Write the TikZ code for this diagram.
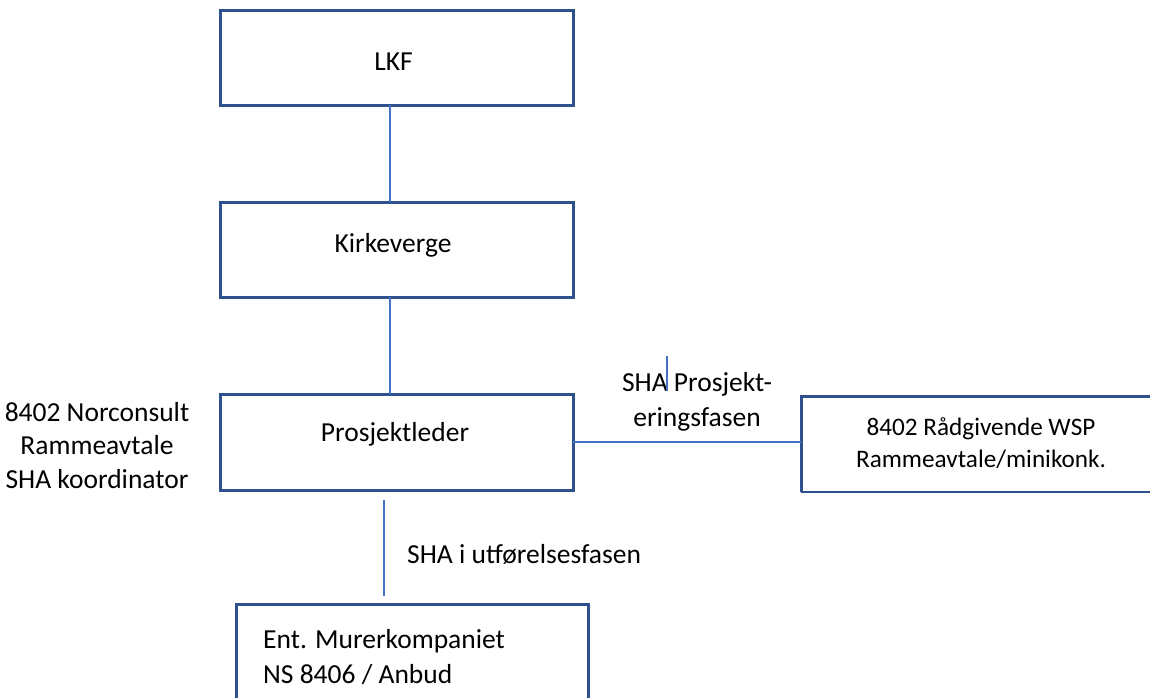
\documentclass[tikz,border=0pt]{standalone}
\usepackage{fontspec}
\setmainfont{Carlito}
\usetikzlibrary{calc}
\definecolor{boxblue}{HTML}{2F528F}
\definecolor{lineblue}{HTML}{4472C4}
\begin{document}
\begin{tikzpicture}[x=1pt,y=-1pt,
  orgbox/.style={draw=boxblue, line width=3pt, minimum width=353pt, minimum height=95pt, inner sep=0pt, outer sep=0pt},
  lbl/.style={inner sep=0pt, font=\fontsize{27.5}{33.5}\selectfont, text=black},
  link/.style={draw=lineblue, line width=1.3pt}]
\useasboundingbox (0,0) rectangle (1150,697);
% boxes
\node[orgbox] (lkf) at (396.5,57.5) {};
\node[orgbox] (kirke) at (396.5,249.5) {};
\node[orgbox, minimum height=96pt] (pl) at (396.5,442) {};
\node[orgbox, draw=none, minimum width=352pt, minimum height=96pt] (wsp) at (977,444) {};
\draw[boxblue, line width=3pt] (wsp.south west) -- (wsp.north west) -- (wsp.north east);
\draw[boxblue, line width=2pt] (wsp.south west) -- (wsp.south east);
\node[orgbox, minimum width=352pt, minimum height=116pt] (ent) at (412,662) {};
% texts (multi-line nodes: base = baseline of last line)
\node[lbl, anchor=base] (tlkf) at (393.5,70.7) {LKF};
\node[lbl, anchor=base] (tkirke) at (393,252) {Kirkeverge};
\node[lbl, anchor=base] (tpl) at (395,441) {Prosjektleder};
\node[lbl, anchor=base, align=center] (tnorc) at (97,488) {8402 Norconsult\\Rammeavtale\\SHA koordinator};
\node[lbl, anchor=base, align=center, font=\fontsize{27.5}{35}\selectfont] (tsha1) at (697,426) {SHA Prosjekt-\\eringsfasen};
\node[lbl, anchor=base, align=center, font=\fontsize{25.2}{32}\selectfont] (twsp) at (981,467) {8402 Rådgivende WSP\\Rammeavtale/minikonk.};
\node[lbl, anchor=base west] (tsha2) at (407,563) {SHA i utførelsesfasen};
\node[lbl, anchor=base west, align=left, font=\fontsize{27.5}{35}\selectfont] (tent) at (263,683) {Ent. Murerkompaniet\\NS 8406 / Anbud};
% connectors
\draw[link] ([xshift=-6.5pt]lkf.south) -- ([xshift=-6.5pt]kirke.north);
\draw[link] ([xshift=-6.5pt]kirke.south) -- ([xshift=-6.5pt]pl.north);
\draw[link] (pl.east) -- (pl.east -| wsp.west);
\draw[link] ($(pl.south)+(-12.5,10)$) -- ($(ent.north)+(-28,-8)$);
\coordinate (cur1) at (667,356);
\coordinate (cur2) at (667,391);
\draw[link] (cur1) -- (cur2);
\end{tikzpicture}
\end{document}
